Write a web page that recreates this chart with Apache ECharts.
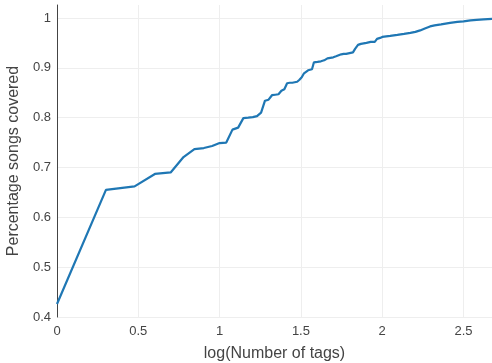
<!DOCTYPE html>
<html>
<head>
<meta charset="utf-8">
<script src="https://cdn.jsdelivr.net/npm/echarts@6/dist/echarts.min.js"></script>
<style>
  html, body { margin: 0; padding: 0; background: #fff; }
  #chart { width: 492px; height: 363px; }
</style>
</head>
<body>
<div id="chart"></div>
<script>
// log10 of the number of tags
const logTags = [0, 0.301, 0.477, 0.602, 0.699, 0.778, 0.845, 0.903, 0.954, 1.0,
  1.041, 1.079, 1.114, 1.146, 1.176, 1.204, 1.230, 1.255, 1.279, 1.301,
  1.322, 1.342, 1.362, 1.380, 1.398, 1.415, 1.431, 1.447, 1.462, 1.477,
  1.491, 1.505, 1.519, 1.531, 1.544, 1.556, 1.568, 1.580, 1.602, 1.623,
  1.643, 1.663, 1.681, 1.699, 1.716, 1.732, 1.748, 1.763, 1.778, 1.792,
  1.806, 1.820, 1.833, 1.851, 1.869, 1.886, 1.903, 1.929, 1.954, 1.968,
  1.987, 2.0, 2.049, 2.093, 2.134, 2.173, 2.204, 2.233, 2.262, 2.294,
  2.322, 2.362, 2.417, 2.462, 2.500, 2.543, 2.580, 2.623, 2.675];

// share of songs covered by that many tags
const songsCovered = [0.426, 0.655, 0.662, 0.687, 0.690, 0.721, 0.737, 0.739, 0.743, 0.749,
  0.750, 0.776, 0.780, 0.799, 0.800, 0.801, 0.803, 0.810, 0.834, 0.836,
  0.845, 0.846, 0.847, 0.854, 0.857, 0.869, 0.870, 0.870, 0.871, 0.872,
  0.876, 0.881, 0.889, 0.893, 0.895, 0.896, 0.897, 0.911, 0.912, 0.913,
  0.915, 0.919, 0.920, 0.921, 0.923, 0.925, 0.927, 0.928, 0.928, 0.929,
  0.930, 0.931, 0.938, 0.946, 0.948, 0.949, 0.950, 0.952, 0.952, 0.958,
  0.960, 0.962, 0.964, 0.966, 0.968, 0.970, 0.972, 0.975, 0.979, 0.983,
  0.985, 0.987, 0.990, 0.992, 0.993, 0.995, 0.996, 0.997, 0.998];

const xTicks = [0, 0.5, 1, 1.5, 2, 2.5];
const yTicks = [0.4, 0.5, 0.6, 0.7, 0.8, 0.9, 1];

const FONT = '"Liberation Sans", Arial, sans-serif';
const TEXT = '#444';
const GRID = '#eeeeee';

const chart = echarts.init(document.getElementById('chart'), null, { renderer: 'canvas' });

const xMax = 2.675, yMin = 0.4, yMax = 1.026;

chart.setOption({
  animation: false,
  backgroundColor: '#fff',
  grid: { left: 57, right: 0, top: 5, bottom: 46, containLabel: false, outerBoundsMode: 'none' },
  xAxis: {
    type: 'value',
    min: 0, max: xMax, interval: 0.5,
    name: 'log(Number of tags)',
    nameLocation: 'middle',
    nameGap: 29,
    nameTextStyle: { color: TEXT, fontFamily: FONT, fontSize: 16 },
    axisLine: { show: false },
    axisTick: { show: false },
    axisLabel: {
      color: TEXT, fontFamily: FONT, fontSize: 13, margin: 8,
      showMaxLabel: false,
      formatter: v => xTicks.some(t => Math.abs(t - v) < 1e-6) ? String(+v.toFixed(1)) : ''
    },
    splitLine: {
      show: true,
      lineStyle: { color: ['transparent', GRID, GRID, GRID, GRID, GRID, 'transparent'], width: 1 }
    }
  },
  yAxis: {
    type: 'value',
    min: yMin, max: yMax, interval: 0.1,
    name: 'Percentage songs covered',
    nameLocation: 'middle',
    nameGap: 33,
    nameTextStyle: { color: TEXT, fontFamily: FONT, fontSize: 16 },
    axisLine: { show: true, lineStyle: { color: TEXT, width: 1 } },
    axisTick: { show: false },
    axisLabel: {
      color: TEXT, fontFamily: FONT, fontSize: 13, margin: 6,
      showMaxLabel: false,
      formatter: v => yTicks.some(t => Math.abs(t - v) < 1e-6) ? String(+v.toFixed(1)) : ''
    },
    splitLine: {
      show: true,
      lineStyle: { color: [GRID, GRID, GRID, GRID, GRID, GRID, GRID, 'transparent'], width: 1 }
    }
  },
  series: [{
    type: 'line',
    data: logTags.map((x, i) => [x, songsCovered[i]]),
    showSymbol: false,
    symbol: 'none',
    lineStyle: { color: '#1f77b4', width: 2.2 },
    itemStyle: { color: '#1f77b4' },
    clip: false
  }]
});
</script>
</body>
</html>
